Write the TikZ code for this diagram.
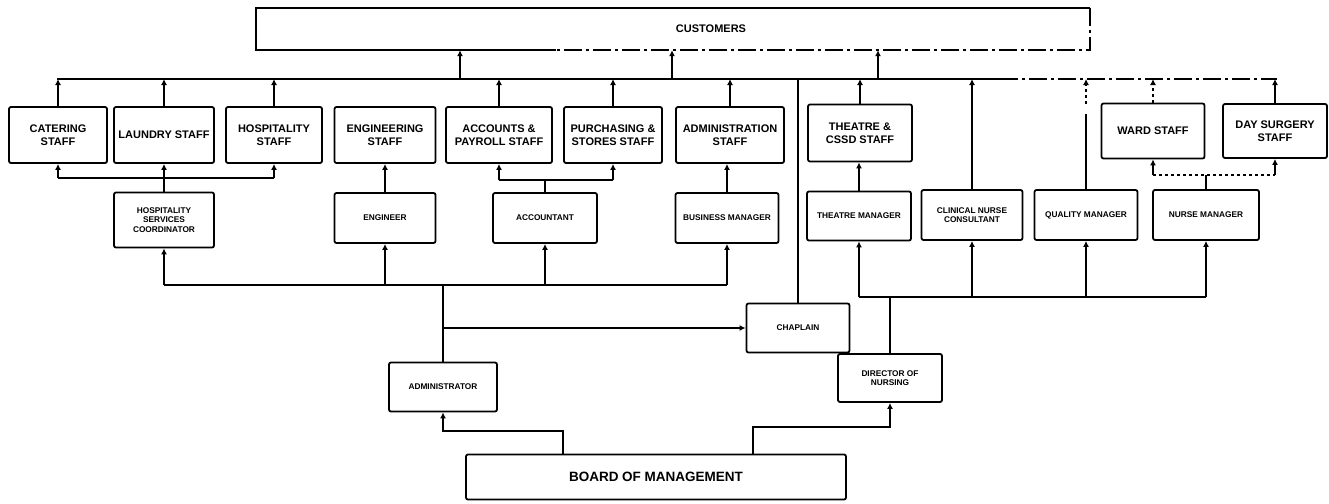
\documentclass[tikz,border=0pt]{standalone}
\usepackage{fontspec}
\setmainfont{Liberation Sans}
\usetikzlibrary{arrows.meta}

\tikzset{
  box/.style={draw, line width=1.8pt, rounded corners=2pt, align=center,
    inner sep=1pt, font=\bfseries\fontsize{11}{12.5}\selectfont},
  mgr/.style={box, font=\bfseries\fontsize{8.3}{9.5}\selectfont},
  wire/.style={line width=1.8pt},
  arr/.style={wire, -{Latex[length=6pt,width=6pt]}},
  dotdash/.style={dash pattern=on 18pt off 4pt on 3pt off 4pt},
}

\begin{document}
\begin{tikzpicture}[x=1pt, y=-1pt]
\useasboundingbox (0,0) rectangle (1329,503);

% customers
\node[minimum width=834, minimum height=42, inner sep=0] (cust) at (673,29) {};
\node[font=\bfseries\fontsize{11}{12}\selectfont] (custtxt) at (711,29) {CUSTOMERS};
\draw[wire] ([xshift=300]cust.south west) -- (cust.south west) -- (cust.north west) -- (cust.north east);
\draw[wire, dotdash] (cust.north east) -- (cust.south east) -- ([xshift=300]cust.south west);

% staff row
\node[box, minimum width=98,  minimum height=56] (cat) at (58,135)   {CATERING\\STAFF};
\node[box, minimum width=100, minimum height=56] (lau) at (164,135)  {LAUNDRY STAFF};
\node[box, minimum width=96,  minimum height=56] (hos) at (274,135)  {HOSPITALITY\\STAFF};
\node[box, minimum width=101, minimum height=56] (eng) at (385,135)  {ENGINEERING\\STAFF};
\node[box, minimum width=106, minimum height=56] (acc) at (499,135)  {ACCOUNTS \&\\PAYROLL STAFF};
\node[box, minimum width=98,  minimum height=56] (pur) at (613,135)  {PURCHASING \&\\STORES STAFF};
\node[box, minimum width=108, minimum height=56] (adm) at (730,135)  {ADMINISTRATION\\STAFF};
\node[box, minimum width=104, minimum height=57] (the) at (860,133)  {THEATRE \&\\CSSD STAFF};
\node[box, minimum width=103, minimum height=55] (war) at (1153,131) {WARD STAFF};
\node[box, minimum width=104, minimum height=54] (day) at (1275,131) {DAY SURGERY\\STAFF};

% managers row
\node[mgr, minimum width=100, minimum height=55] (hsc)  at (164,220)  {HOSPITALITY\\SERVICES\\COORDINATOR};
\node[mgr, minimum width=101, minimum height=50] (engr) at (385,218)  {ENGINEER};
\node[mgr, minimum width=104, minimum height=50] (acct) at (545,218)  {ACCOUNTANT};
\node[mgr, minimum width=103, minimum height=50] (bsm)  at (727,218)  {BUSINESS MANAGER};
\node[mgr, minimum width=104, minimum height=49] (thm)  at (859,216)  {THEATRE MANAGER};
\node[mgr, minimum width=101, minimum height=50] (cnc)  at (972,215)  {CLINICAL NURSE\\CONSULTANT};
\node[mgr, minimum width=103, minimum height=50] (qm)   at (1086,215) {QUALITY MANAGER};
\node[mgr, minimum width=106, minimum height=50] (nm)   at (1206,215) {NURSE MANAGER};

% lower level
\node[mgr, minimum width=103, minimum height=49] (chap) at (798,328) {CHAPLAIN};
\node[mgr, minimum width=108, minimum height=49] (admr) at (443,387) {ADMINISTRATOR};
\node[mgr, minimum width=104, minimum height=48] (don)  at (890,378) {DIRECTOR OF\\NURSING};
\node[box, minimum width=380, minimum height=45,
      font=\bfseries\fontsize{13.5}{15}\selectfont] (board) at (656,477) {BOARD OF MANAGEMENT};

% bus lines
\coordinate (busL) at (57,79);
\coordinate (busM) at (1000,79);
\coordinate (busR) at (1277,79);
\coordinate (hbus) at (0,178);
\coordinate (abus) at (0,180);
\coordinate (nbus) at (0,175);
\coordinate (lbus) at (0,285);
\coordinate (rbus) at (0,297);

% staff to customers
\draw[wire] (busL) -- (busM);
\draw[wire, dotdash] (busM) -- (busR);
\foreach \n in {cat,lau,hos,acc,pur,adm,the,day}
  \draw[arr] (\n.north) -- (\n.north |- busL);
\draw[arr, dashed] (war.north) -- (war.north |- busL);
\coordinate (k1) at (460,79);
\coordinate (k2) at (672,79);
\coordinate (k3) at (878,79);
\foreach \k in {k1,k2,k3}
  \draw[arr] (\k) -- (\k |- cust.south);
\draw[wire] (chap.north) -- (chap.north |- busL);
\draw[arr] (cnc.north) -- (cnc.north |- busL);
\draw[wire] (qm.north) -- ++(0,-75) coordinate (qtop);
\draw[arr, dashed] ([yshift=10]qtop) -- (qm.north |- busL);

% managers to staff
\draw[wire] (hsc.north) -- (hsc.north |- hbus);
\draw[wire] (cat.south |- hbus) -- (hos.south |- hbus);
\foreach \n in {cat,lau,hos}
  \draw[arr] (\n.south |- hbus) -- (\n.south);
\draw[arr] (engr.north) -- (eng.south);
\draw[wire] (acct.north) -- (acct.north |- abus);
\draw[wire] (acc.south |- abus) -- (pur.south |- abus);
\foreach \n in {acc,pur}
  \draw[arr] (\n.south |- abus) -- (\n.south);
\draw[arr] (bsm.north) -- (bsm.north |- adm.south);
\draw[arr] (thm.north) -- (thm.north |- the.south);
\draw[wire] (nm.north) -- (nm.north |- nbus);
\draw[wire, dashed] (war.south |- nbus) -- (day.south |- nbus);
\foreach \n in {war,day}
  \draw[arr] (\n.south |- nbus) -- (\n.south);

% administrator branch
\draw[wire] (hsc.south |- lbus) -- (bsm.south |- lbus);
\foreach \n in {hsc,engr,acct,bsm}
  \draw[arr] (\n.south |- lbus) -- (\n.south);
\draw[wire] (admr.north) -- (admr.north |- lbus);
\draw[arr] (admr.north |- chap.west) -- (chap.west);

% nursing branch
\draw[wire] (thm.south |- rbus) -- (nm.south |- rbus);
\foreach \n in {thm,cnc,qm,nm}
  \draw[arr] (\n.south |- rbus) -- (\n.south);
\draw[wire] (don.north) -- (don.north |- rbus);

% board
\draw[arr] ([xshift=-93]board.north) -- ++(0,-23) -| (admr.south);
\draw[arr] ([xshift=97]board.north) -- ++(0,-27) -| (don.south);
\end{tikzpicture}
\end{document}
